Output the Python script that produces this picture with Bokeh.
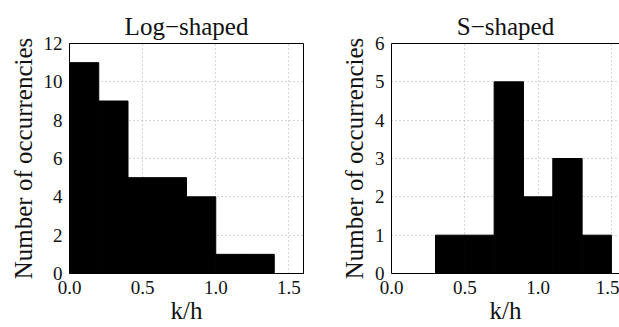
from bokeh.plotting import figure
from bokeh.layouts import row
from bokeh.models import Range1d, FixedTicker, PrintfTickFormatter, LinearAxis
from bokeh.embed import file_html
from bokeh.resources import INLINE

# Data
log_left = [0.0, 0.2, 0.4, 0.6, 0.8, 1.0, 1.2]
log_right = [0.2, 0.4, 0.6, 0.8, 1.0, 1.2, 1.4]
log_counts = [11, 9, 5, 5, 4, 1, 1]

s_left = [0.3, 0.5, 0.7, 0.9, 1.1, 1.3]
s_right = [0.5, 0.7, 0.9, 1.1, 1.3, 1.5]
s_counts = [1, 1, 5, 2, 3, 1]

x_ticks = [0.0, 0.5, 1.0, 1.5]
log_y_ticks = [0, 2, 4, 6, 8, 10, 12]
s_y_ticks = [0, 1, 2, 3, 4, 5, 6]

FONT = "Liberation Serif"
TXT = "#111111"


def style(p, yticks):
    p.title.text_font = FONT
    p.title.text_font_size = "25px"
    p.title.text_font_style = "normal"
    p.title.align = "center"
    p.title.text_color = TXT
    p.title.standoff = 8
    for ax in (p.xaxis[0], p.yaxis[0]):
        ax.axis_label_text_font = FONT
        ax.axis_label_text_font_size = "25px"
        ax.axis_label_text_font_style = "normal"
        ax.axis_label_text_color = TXT
        ax.major_label_text_font = FONT
        ax.major_label_text_font_size = "19px"
        ax.major_label_text_font_style = "normal"
        ax.major_label_text_color = TXT
        ax.major_tick_in = 0
        ax.major_tick_out = 0
        ax.minor_tick_in = 0
        ax.minor_tick_out = 0
        ax.axis_line_color = "black"
    p.xaxis[0].ticker = FixedTicker(ticks=x_ticks)
    p.xaxis[0].formatter = PrintfTickFormatter(format="%.1f")
    p.yaxis[0].ticker = FixedTicker(ticks=yticks)
    p.xaxis[0].major_label_standoff = 7
    p.xaxis[0].axis_label_standoff = 0
    p.yaxis[0].major_label_standoff = 7
    p.yaxis[0].axis_label_standoff = 4
    p.xgrid.ticker = FixedTicker(ticks=x_ticks)
    p.ygrid.ticker = FixedTicker(ticks=yticks)
    for g in (p.xgrid[0], p.ygrid[0]):
        g.grid_line_color = "#aaaaaa"
        g.grid_line_dash = "1 3"
        g.grid_line_width = 1
    p.background_fill_color = "white"
    p.border_fill_color = "white"


p1 = figure(width=310, height=327, output_backend="svg", toolbar_location=None,
            title="Log\u2212shaped", x_range=Range1d(0, 1.6), y_range=Range1d(0, 12),
            x_axis_label="k/h", y_axis_label="Number of occurrencies",
            min_border_left=69, min_border_right=7, min_border_top=43, min_border_bottom=54)
p1.quad(left=log_left, right=log_right, top=log_counts, bottom=0,
        fill_color="black", line_color="black", line_width=1)
style(p1, log_y_ticks)
p1.outline_line_color = "black"
p1.outline_line_width = 1
p1.outline_line_alpha = 1

p2 = figure(width=309, height=327, output_backend="svg", toolbar_location=None,
            title="S\u2212shaped", x_range=Range1d(0, 1.555), y_range=Range1d(0, 6),
            x_axis_label="k/h", y_axis_label="Number of occurrencies",
            min_border_left=81, min_border_right=0, min_border_top=43, min_border_bottom=54)
p2.quad(left=s_left, right=s_right, top=s_counts, bottom=0,
        fill_color="black", line_color="black", line_width=1)
style(p2, s_y_ticks)
p2.outline_line_color = None
top_axis = LinearAxis(ticker=FixedTicker(ticks=[]), major_label_text_font_size="0px",
                      major_tick_in=0, major_tick_out=0, minor_tick_in=0, minor_tick_out=0,
                      axis_line_color="black")
p2.add_layout(top_axis, "above")

layout = row(p1, p2)
open("out.html", "w").write(file_html(layout, INLINE))
